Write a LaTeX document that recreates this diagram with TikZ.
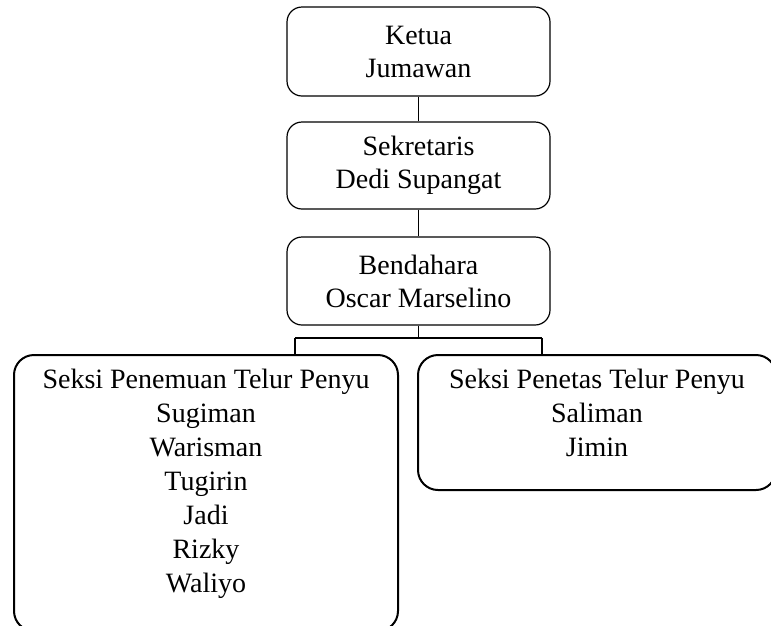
\documentclass[tikz,border=0pt]{standalone}
\usepackage{fontspec}
\setmainfont{Liberation Serif}
\usetikzlibrary{positioning}
\tikzset{
jabatan/.style={draw,rounded corners=15pt,line width=1.2pt,minimum width=263pt,align=center,font=\fontsize{28}{33}\selectfont},
seksi/.style={draw,rounded corners=20pt,line width=2pt,inner sep=0pt,font=\fontsize{28}{34}\selectfont},
garis/.style={line width=1.2pt}
}
\begin{document}
\begin{tikzpicture}[x=1pt,y=-1pt]
\useasboundingbox (0,0) rectangle (771,625);
\node[jabatan,minimum height=89pt](ketua) at (418.5,51.5){Ketua\\Jumawan};
\node[jabatan,minimum height=87pt](sekretaris) at (418.5,165.5){Sekretaris\\Dedi Supangat};
\node[jabatan,minimum height=88pt](bendahara) at (418.5,281){Bendahara\\Oscar Marselino};
\node[seksi](penemuan) at (206,493){\parbox[c][276pt][t]{384pt}{\centering\rule{0pt}{33pt}Seksi Penemuan Telur Penyu\\Sugiman\\Warisman\\Tugirin\\Jadi\\Rizky\\Waliyo}};
\node[seksi](penetas) at (597,422.5){\parbox[c][135pt][t]{358pt}{\centering\rule{0pt}{33pt}Seksi Penetas Telur Penyu\\Saliman\\Jimin}};
\coordinate (cabang) at (418.5,338);
\coordinate (kiri) at (295,338);
\coordinate (kanan) at (542,338);
\path[draw,garis] (ketua)--(sekretaris);
\path[draw,garis] (sekretaris)--(bendahara);
\path[draw,garis] (bendahara)--(cabang);
\path[draw,garis] (kiri)--(kanan);
\path[draw,garis] (kiri)--(kiri|-penemuan.north);
\path[draw,garis] (kanan)--(kanan|-penetas.north);
\end{tikzpicture}
\end{document}
